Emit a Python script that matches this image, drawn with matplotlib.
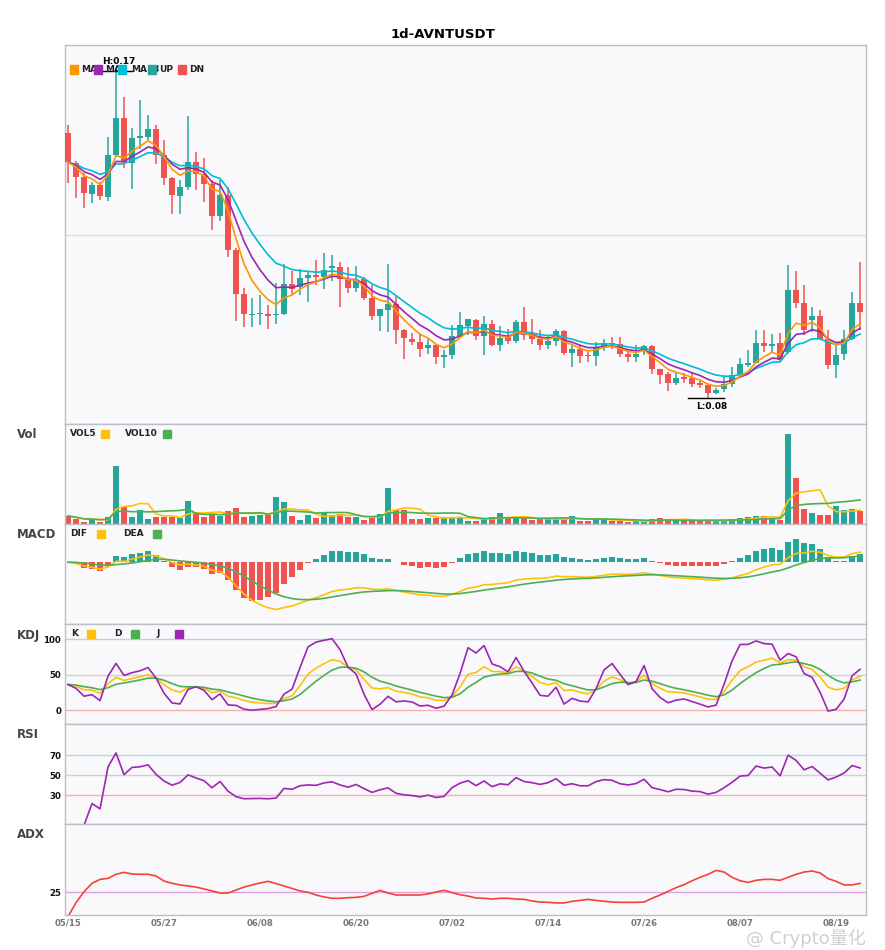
import numpy as np
import pandas as pd
import matplotlib
matplotlib.use("Agg")
import matplotlib.pyplot as plt
from matplotlib.patches import Rectangle

# daily candles
dates = pd.date_range("2025-05-15", periods=100, freq="D")
opens = [.1525, .1443, .1404, .1356, .1381, .1349, .1463, .1566, .1442, .1509,
         .1513, .1536, .1465, .1401, .1352, .1376, .1444, .1413, .1384, .1297,
         .1354, .1204, .1084, .1027, .1029, .1031, .1026, .1029, .1111, .1104,
         .1128, .1136, .1131, .1155, .1159, .1125, .1101, .1125, .1074, .1025,
         .1042, .1056, .0986, .0961, .0953, .0937, .0945, .0913, .0918, .0969,
         .0998, .1013, .0970, .1002, .0945, .0966, .0956, .1008, .0979, .0962,
         .0945, .0956, .0983, .0924, .0934, .0917, .0915, .0940, .0952, .0949,
         .0920, .0913, .0929, .0942, .0879, .0866, .0842, .0857, .0854, .0842,
         .0836, .0815, .0824, .0838, .0863, .0892, .0896, .0952, .0943, .0951,
         .0926, .1095, .1060, .1013, .1024, .0963, .0890, .0922, .0963, .1060]
highs = [.1545, .1446, .1414, .1390, .1389, .1513, .1700, .1622, .1538, .1615,
         .1572, .1545, .1506, .1405, .1395, .1569, .1471, .1455, .1395, .1395,
         .1376, .1209, .1100, .1073, .1081, .1054, .1114, .1166, .1147, .1152,
         .1147, .1176, .1196, .1190, .1171, .1157, .1160, .1130, .1108, .1044,
         .1166, .1079, .0990, .0978, .0979, .0963, .0947, .0933, .0999, .1035,
         .1016, .1016, .1024, .1013, .0996, .0990, .1013, .1049, .1016, .0986,
         .0972, .0990, .0987, .0944, .0945, .0931, .0953, .0961, .0966, .0967,
         .0931, .0946, .0946, .0945, .0879, .0872, .0870, .0868, .0868, .0849,
         .0840, .0829, .0863, .0885, .0911, .0933, .0987, .0987, .0975, .0977,
         .1163, .1147, .1108, .1049, .1040, .0987, .0949, .0987, .1090, .1172]
lows = [.1387, .1346, .1319, .1333, .1340, .1338, .1460, .1428, .1371, .1481,
        .1504, .1440, .1381, .1302, .1302, .1367, .1367, .1335, .1258, .1283,
        .1185, .1010, .0995, .0995, .0999, .0989, .1002, .1026, .1084, .1081,
        .1063, .1108, .1097, .1120, .1049, .1086, .1090, .1067, .1013, .0984,
        .0981, .0947, .0908, .0945, .0913, .0922, .0893, .0883, .0906, .0967,
        .0972, .0958, .0917, .0942, .0929, .0948, .0951, .0960, .0949, .0931,
        .0934, .0942, .0917, .0885, .0895, .0898, .0887, .0929, .0934, .0913,
        .0900, .0898, .0917, .0867, .0840, .0820, .0836, .0842, .0831, .0829,
        .0802, .0811, .0817, .0831, .0858, .0884, .0895, .0926, .0925, .0902,
        .0922, .1045, .0972, .0981, .0958, .0881, .0854, .0904, .0960, .0986]
closes = [.1444, .1404, .1360, .1381, .1352, .1463, .1566, .1444, .1509, .1515,
          .1534, .1463, .1401, .1354, .1376, .1444, .1413, .1384, .1297, .1354,
          .1204, .1084, .1029, .1031, .1032, .1024, .1029, .1111, .1097, .1129,
          .1136, .1131, .1151, .1160, .1126, .1101, .1120, .1074, .1025, .1043,
          .1056, .0987, .0965, .0954, .0935, .0945, .0913, .0919, .0969, .0999,
          .1016, .0970, .1002, .0945, .0965, .0956, .1008, .0972, .0961, .0945,
          .0956, .0983, .0924, .0934, .0915, .0915, .0940, .0952, .0947, .0922,
          .0913, .0920, .0942, .0880, .0863, .0843, .0855, .0853, .0840, .0836,
          .0815, .0822, .0840, .0863, .0893, .0896, .0952, .0942, .0949, .0904,
          .1095, .1060, .0986, .1024, .0963, .0890, .0919, .0963, .1060, .1035]
volumes = [25, 17, 7, 13, 7, 22, 175, 51, 22, 44,
           16, 22, 22, 22, 19, 70, 37, 22, 30, 26,
           40, 49, 22, 25, 28, 28, 82, 68, 25, 13,
           28, 19, 33, 28, 31, 23, 22, 13, 20, 31,
           109, 42, 44, 16, 16, 19, 19, 22, 22, 22,
           10, 10, 16, 22, 34, 19, 19, 19, 13, 16,
           16, 16, 16, 25, 10, 10, 19, 16, 10, 10,
           7, 10, 7, 16, 19, 16, 13, 10, 10, 10,
           13, 10, 10, 16, 19, 22, 25, 25, 19, 13,
           271, 139, 46, 34, 28, 28, 55, 43, 46, 40]
# ADX line as drawn on the chart
adx_vals = [8.8, 18.1, 25.4, 31.0, 33.6, 34.3, 37.0, 38.3, 37.2, 37.0,
            37.0, 35.9, 32.5, 31.0, 29.9, 29.2, 28.5, 27.2, 25.9, 24.5,
            24.5, 26.5, 28.5, 29.9, 31.2, 32.3, 30.8, 29.2, 27.6, 25.9,
            25.0, 23.2, 21.9, 21.0, 21.0, 21.4, 21.6, 22.3, 24.3, 26.3,
            24.5, 23.2, 23.2, 23.2, 23.2, 23.9, 25.2, 26.3, 24.8, 23.4,
            22.5, 21.2, 21.0, 20.5, 21.0, 21.0, 20.5, 20.3, 19.2, 18.5,
            18.3, 17.9, 17.9, 19.0, 19.6, 20.3, 19.6, 19.0, 18.5, 18.3,
            18.3, 18.3, 18.5, 21.0, 23.2, 25.6, 28.1, 30.1, 32.7, 35.0,
            37.0, 39.6, 38.5, 35.0, 32.7, 31.6, 33.0, 33.6, 33.6, 33.0,
            35.0, 37.0, 38.5, 39.2, 37.9, 34.1, 32.3, 29.9, 29.9, 31.0]

o = pd.Series(opens)
h = pd.Series(highs)
l = pd.Series(lows)
c = pd.Series(closes)
v = pd.Series(volumes, dtype=float)
x = np.arange(len(c))

GREEN = "#26a69a"
RED = "#ef5350"
up = c >= o
cols = [GREEN if u else RED for u in up]

# indicators
ma5 = c.ewm(span=5, adjust=False).mean()
ma8 = c.ewm(span=8, adjust=False).mean()
ma13 = c.ewm(span=13, adjust=False).mean()
vol5 = v.rolling(5, min_periods=1).mean()
vol10 = v.rolling(10, min_periods=1).mean()

dif = c.ewm(span=12, adjust=False).mean() - c.ewm(span=26, adjust=False).mean()
dea = dif.ewm(span=9, adjust=False).mean()
hist = 2 * (dif - dea)

l9 = l.rolling(9, min_periods=1).min()
h9 = h.rolling(9, min_periods=1).max()
rsv = (c - l9) / (h9 - l9) * 100
k = rsv.ewm(com=2, adjust=False).mean()
d = k.ewm(com=2, adjust=False).mean()
j = 3 * k - 2 * d

delta = c.diff()
gain = delta.clip(lower=0).ewm(alpha=1 / 14).mean()
loss = (-delta.clip(upper=0)).ewm(alpha=1 / 14).mean()
rsi = 100 * gain / (gain + loss)

# figure in pixel layout
W, H = 885, 950
fig = plt.figure(figsize=(W / 100, H / 100), dpi=100)
fig.patch.set_facecolor("white")
LEFT, WIDTH = 65.3, 800.4
BG = "#f9f9fb"
EDGE = "#bdbdc5"


def panel(top, bot):
    ax = fig.add_axes([LEFT / W, 1 - bot / H, WIDTH / W, (bot - top) / H])
    ax.set_facecolor(BG)
    for s in ax.spines.values():
        s.set_color(EDGE)
        s.set_linewidth(1)
    ax.set_xlim(-0.34, 99.7)
    ax.set_xticks([])
    ax.set_yticks([])
    return ax


def ftext(px, py, s, **kw):
    return fig.text(px / W, 1 - py / H, s, **kw)


def square(px, py, color, z):
    fig.patches.append(Rectangle((px / W, 1 - (py + 4) / H), 8 / W, 8 / H,
                                 transform=fig.transFigure, color=color, zorder=z))


lab = dict(fontsize=6.5, fontweight="bold", color="#222222", va="center")

ax0 = panel(45.3, 424.3)
ax1 = panel(424.3, 524.3)
ax2 = panel(524.3, 624.3)
ax3 = panel(624.3, 724.3)
ax4 = panel(724.3, 824.3)
ax5 = panel(824.3, 915.3)

# price candles
ax0.set_ylim(0.0729, 0.1763)
ax0.axhline(sum(ax0.get_ylim()) / 2, color="#dcdce0", lw=0.9, zorder=0)
ax0.vlines(x, l, h, colors=cols, lw=1.1, zorder=2)
body = np.maximum((c - o).abs(), 0.0003)
ax0.bar(x, body, bottom=np.minimum(o, c), width=0.75, color=cols, zorder=3)
ax0.plot(x, ma13, color="#00bcd4", lw=1.2, zorder=4)
ax0.plot(x, ma8, color="#9c27b0", lw=1.2, zorder=4)
ax0.plot(x, ma5, color="#ff9800", lw=1.2, zorder=4)

ih, il = int(h.idxmax()), int(l.idxmin())
ax0.plot([ih - 1.6, ih + 2.0], [h[ih] - 0.0008, h[ih] - 0.0008], color="black", lw=1, zorder=5)
ax0.annotate("H:%.2f" % h[ih], (ih + 0.4, h[ih] - 0.0008), xytext=(0, 3.5), textcoords="offset points",
             ha="center", va="bottom", fontsize=6.5, fontweight="bold", zorder=6)
ax0.plot([il - 2.5, il + 2.0], [l[il], l[il]], color="black", lw=1, zorder=5)
ax0.annotate("L:%.2f" % l[il], (il + 0.5, l[il]), xytext=(0, -3), textcoords="offset points",
             ha="center", va="top", fontsize=6.5, fontweight="bold", zorder=6)

# main legend (items overlap like the original)
items = [(70, 81, "#ff9800", "MA5"), (94.3, 105, "#9c27b0", "MA8"),
         (118.3, 131, "#00bcd4", "MA13"), (148.3, 159, GREEN, "UP"), (178.3, 189, RED, "DN")]
for n, (sx, tx, col, name) in enumerate(items):
    square(sx, 69.5, col, 10 + 2 * n)
    ftext(tx, 69.5, name, zorder=11 + 2 * n, **lab)

# volume
ax1.set_ylim(0, 300)
ax1.bar(x, v, width=0.75, color=cols, zorder=2)
ax1.plot(x, vol5, color="#ffc107", lw=1.2, zorder=3)
ax1.plot(x, vol10, color="#4caf50", lw=1.2, zorder=3)
ftext(70, 434, "VOL5", **lab)
square(101, 434, "#ffc107", 12)
ftext(125, 434, "VOL10", **lab)
square(162.7, 434, "#4caf50", 12)

# macd
lo = min(dif.min(), dea.min(), hist.min())
hi = max(dif.max(), dea.max(), hist.max())
pad = 0.21 * (hi - lo)
ax2.set_ylim(lo - pad, hi + pad)
ax2.bar(x, hist, width=0.75, color=[GREEN if q >= 0 else RED for q in hist], zorder=2)
ax2.plot(x, dif, color="#ffc107", lw=1.2, zorder=3)
ax2.plot(x, dea, color="#4caf50", lw=1.2, zorder=3)
ftext(70, 534, "DIF", **lab)
square(97.3, 534, "#ffc107", 12)
ftext(123.3, 534, "DEA", **lab)
square(153.3, 534, "#4caf50", 12)

tick_kw = dict(length=0, pad=3, labelsize=6.2, labelcolor="#111111")

# kdj
ax3.set_ylim(-20.2, 121.2)
ax3.axhline(100, color="#a8dcdc", lw=1, zorder=1)
ax3.axhline(50, color="#cfcfd4", lw=1, zorder=1)
ax3.axhline(0, color="#f6b0b0", lw=1, zorder=1)
ax3.plot(x, k, color="#ffc107", lw=1.2, zorder=3)
ax3.plot(x, d, color="#4caf50", lw=1.2, zorder=3)
ax3.plot(x, j, color="#9c27b0", lw=1.2, zorder=3)
ax3.set_yticks([0, 50, 100])
ax3.tick_params(axis="y", **tick_kw)
ftext(70.7, 634, "K", **lab)
square(87.3, 634, "#ffc107", 12)
ftext(114, 634, "D", **lab)
square(131, 634, "#4caf50", 12)
ftext(156.7, 634, "J", **lab)
square(175, 634, "#9c27b0", 12)

# rsi
ax4.set_ylim(1, 101)
ax4.axhline(70, color="#a8dcdc", lw=1, zorder=1)
ax4.axhline(50, color="#cfcfd4", lw=1, zorder=1)
ax4.axhline(30, color="#f6b0b0", lw=1, zorder=1)
ax4.plot(x, rsi, color="#9c27b0", lw=1.2, zorder=3)
ax4.set_yticks([30, 50, 70])
ax4.tick_params(axis="y", **tick_kw)

# adx
ax5.set_ylim(25 - 23 / 1.5, 25 + 68 / 1.5)
ax5.axhline(25, color="#dda0e6", lw=1, zorder=1)
ax5.plot(x, adx_vals, color="#f44336", lw=1.2, zorder=3)
ax5.set_yticks([25])
ax5.tick_params(axis="y", **tick_kw)
ticks = list(range(0, 100, 12))
ax5.set_xticks(ticks)
ax5.set_xticklabels([dates[t].strftime("%m/%d") for t in ticks])
ax5.tick_params(axis="x", length=0, pad=2, labelsize=6.2, labelcolor="#777777")

for a in (ax3, ax4, ax5):
    for t in a.get_yticklabels() + a.get_xticklabels():
        t.set_fontweight("bold")

# panel names and title
for name, py in [("Vol", 435), ("MACD", 535), ("KDJ", 635), ("RSI", 735), ("ADX", 835)]:
    ftext(17, py, name, fontsize=8.5, fontweight="bold", color="#444444", va="center")
ftext(443, 34, "1d-AVNTUSDT", fontsize=9.5, fontweight="bold", ha="center", va="center")

# watermark, kept just under the date labels
ftext(746, 938, "@ Crypto量化", fontsize=13, color="#c4c4c4", alpha=0.8, va="center",
      family=["DejaVu Sans", "Noto Sans CJK SC"], zorder=20)

fig.savefig("out.png", dpi=100, facecolor="white")
